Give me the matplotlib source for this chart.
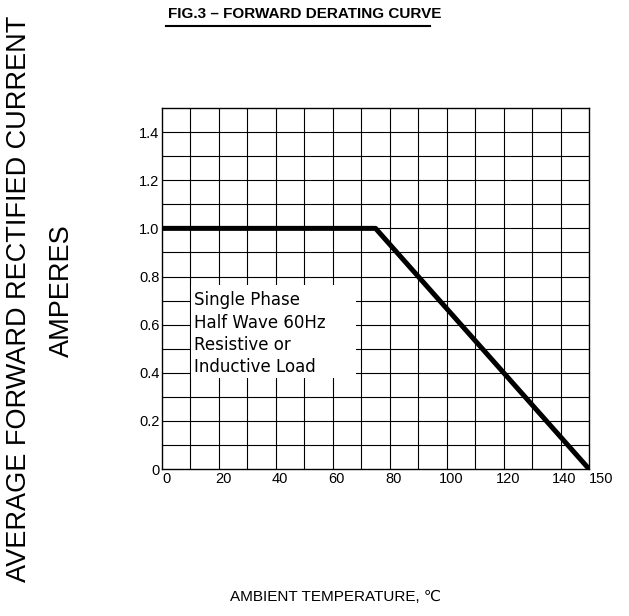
import matplotlib
matplotlib.use('Agg')
import matplotlib.pyplot as plt
import matplotlib.transforms as mtransforms
from matplotlib.patches import Rectangle
from matplotlib.lines import Line2D

# derating curve (ambient temp in C, current in A)
temp = [0, 75, 150]
current = [1.0, 1.0, 0.0]

x_ticks = [0, 20, 40, 60, 80, 100, 120, 140, 150]
y_ticks = [0, 0.2, 0.4, 0.6, 0.8, 1.0, 1.2, 1.4]
y_tick_labels = ["0", "0.2", "0.4", "0.6", "0.8", "1.0", "1.2", "1.4"]
note_lines = ["Single Phase", "Half Wave 60Hz", "Resistive or", "Inductive Load"]

plt.rcParams['font.family'] = ['Liberation Sans', 'DejaVu Sans']

fig = plt.figure(figsize=(6.29, 6.16), dpi=100)
ax = fig.add_axes([0.2576, 0.2386, 0.6789, 0.5860])

ax.set_xlim(0, 150)
ax.set_ylim(0, 1.5)

# grid every 10 degC and 0.1 A
for gx in range(10, 150, 10):
    ax.axvline(gx, color='black', lw=0.8, zorder=1)
for i in range(1, 15):
    ax.axhline(i * 0.1, color='black', lw=0.8, zorder=1)

for s in ax.spines.values():
    s.set_linewidth(1.0)
    s.set_zorder(5)

ax.set_xticks(x_ticks)
ax.set_xticklabels([str(t) for t in x_ticks])
ax.set_yticks(y_ticks)
ax.set_yticklabels(y_tick_labels)
ax.tick_params(length=0, labelsize=10.5, pad=2)
shift = mtransforms.ScaledTranslation(4 / 100, 0, fig.dpi_scale_trans)
for lbl in ax.get_xticklabels()[:-1]:
    lbl.set_transform(lbl.get_transform() + shift)
ax.get_xticklabels()[-1].set_ha('left')

# note box
ax.add_patch(Rectangle((10.15, 0.38), 58, 0.385, facecolor='white',
                       edgecolor='none', zorder=2))
note_y = [0.702, 0.607, 0.515, 0.424]
for txt, ty in zip(note_lines, note_y):
    ax.text(11.3, ty, txt, fontsize=12, family='DejaVu Sans',
            va='center', ha='left', zorder=3)

ax.plot(temp, current, color='black', lw=3.6, solid_capstyle='butt', zorder=4)

# titles
fig.text(0.484, 0.978, "FIG.3 \u2013 FORWARD DERATING CURVE", fontsize=11,
         fontweight='bold', ha='center', va='center')
fig.add_artist(Line2D([0.264, 0.684], [0.957, 0.957], color='black', lw=1.5))

fig.text(0.533, 0.031, "AMBIENT TEMPERATURE, \u2103", fontsize=11,
         ha='center', va='center')

fig.text(0.030, 0.515, "AVERAGE FORWARD RECTIFIED CURRENT", fontsize=19.5,
         rotation=90, ha='center', va='center')
fig.text(0.099, 0.529, "AMPERES", fontsize=19.5, rotation=90,
         ha='center', va='center')

fig.savefig('out.png', dpi=100)
